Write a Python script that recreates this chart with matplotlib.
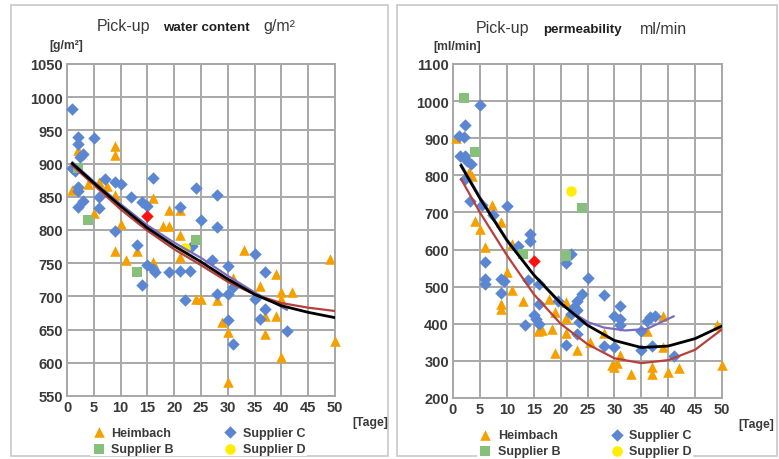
import matplotlib
matplotlib.use("Agg")
import matplotlib.pyplot as plt
from matplotlib.patches import Rectangle

plt.rcParams['font.family'] = ['Liberation Sans', 'DejaVu Sans']

# ---------------- Left chart: water content ----------------
wc_heim_x = [1, 2, 4, 6, 7.5, 9, 9, 9, 5, 16, 19, 21, 10, 9, 11, 13, 16, 18, 19, 21, 21,
             24, 25, 28, 29, 30, 30, 31, 33, 36, 37, 37, 39, 39, 40, 40, 40, 42, 49, 50]
wc_heim_y = [860, 920, 869, 872, 866, 926, 913, 852, 826, 848, 830, 830, 809, 768, 755, 768, 752, 806, 806, 792, 759,
             696, 696, 695, 661, 646, 571, 728, 770, 716, 671, 643, 671, 734, 707, 696, 609, 707, 757, 633]
wc_c_x = [1, 2, 2, 5, 3, 2.5, 1, 1.5, 2, 2, 3, 2, 6, 6, 7, 9, 10, 12, 14, 15, 16, 21, 24, 28, 25, 28,
          9, 13, 14, 15, 16, 16.5, 19, 21, 22, 23, 23.4, 27, 28, 30, 30, 31, 30, 31, 35, 35, 36, 37, 37, 41]
wc_c_y = [982, 940, 930, 938, 915, 910, 893, 889, 865, 858, 843, 834, 849, 833, 877, 872, 869, 850, 842, 836, 878, 834, 864, 852, 815, 804,
          799, 777, 717, 747, 741, 737, 737, 738, 695, 738, 776, 755, 704, 746, 704, 714, 665, 628, 764, 696, 666, 737, 681, 648]
wc_b_x = [2, 4, 13, 24]
wc_b_y = [894, 815, 737, 785]
wc_d_x = [22]
wc_d_y = [773]
wc_red_x = [15]
wc_red_y = [821]
wc_tr_x = [1, 5, 10, 15, 20, 25, 30, 35, 40, 45, 50]
wc_black = [900, 871, 836, 803, 776, 752, 726, 703, 686, 676, 668]
wc_redline = [897, 868, 831, 799, 771, 747, 722, 703, 690, 683, 678]
wc_pur_x = [1, 5, 10, 15, 20, 25, 30, 35, 41]
wc_pur = [902, 873, 839, 807, 781, 758, 731, 706, 680]

# ---------------- Right chart: permeability ----------------
pm_heim_x = [0.5, 3, 3.5, 7.2, 4, 9, 5, 6, 11, 10, 11, 13, 9, 9, 15.8, 16.5, 18.4, 19, 17.8, 19, 21, 21, 21,
             23, 25.5, 28, 29.5, 30, 30.5, 31, 33, 36, 37, 37, 39, 39, 40, 42, 49, 50]
pm_heim_y = [900, 809, 798, 720, 677, 674, 656, 607, 615, 540, 490, 461, 454, 440, 380, 382, 386, 320, 466, 432, 458, 416, 375,
             328, 351, 374, 289, 283, 295, 316, 264, 381, 284, 266, 420, 337, 270, 281, 397, 289]
pm_c_x = [5, 2.2, 1.1, 2, 1.3, 2.2, 2.6, 3.3, 2.2, 3.2, 5.4, 7.5, 10, 12, 14.3, 14.3, 22, 21, 6, 6, 6, 9, 9.5, 9,
          14, 16, 16, 15, 15.5, 16, 13.4, 21, 22, 19.5, 23, 23, 23, 24, 25, 28, 28, 30, 31, 31, 31, 30, 35, 35,
          36, 36.7, 37.5, 37, 41, 23.5, 22.5]
pm_c_y = [990, 936, 906, 903, 852, 852, 839, 831, 790, 731, 720, 693, 718, 610, 642, 623, 588, 563, 566, 522, 506, 521, 515, 483,
          519, 507, 453, 425, 414, 400, 397, 343, 427, 461, 461, 438, 373, 480, 523, 478, 340, 422, 448, 412, 398, 337, 381, 330,
          408, 418, 422, 340, 313, 405, 445]
pm_b_x = [2, 4, 13, 21, 24]
pm_b_y = [1008, 862, 589, 583, 712]
pm_d_x = [22]
pm_d_y = [758]
pm_red_x = [15]
pm_red_y = [569]
pm_tr_x = [1.5, 5, 10, 15, 20, 25, 30, 35, 40, 45, 50]
pm_black = [826, 738, 625, 532, 456, 396, 355, 336, 340, 360, 394]
pm_redline = [790, 700, 585, 480, 400, 345, 307, 294, 302, 330, 385]
pm_pur_x = [1.5, 5, 10, 15, 20, 25, 28, 32, 36, 41]
pm_pur = [830, 742, 628, 532, 452, 405, 390, 382, 386, 420]

ORANGE = '#F5A000'
BLUE = '#5B86D2'
GREEN = '#86C07A'
YELLOW = '#FFEE00'
RED = '#FF1010'
GRID = '#A8A8A8'
TXT = '#3A3A3A'

W, H = 779, 460
fig = plt.figure(figsize=(W / 100, H / 100), dpi=100)


def fx(px):
    return px / W


def fy(py):
    return 1 - py / H


# panel frames (drawn beneath the axes so the legends cover them)
fig.patches.append(Rectangle((fx(11), fy(457)), fx(377), fy(6) - fy(457), zorder=-5,
                             transform=fig.transFigure, fill=False, ec='#C8C8C8', lw=1.2))
fig.patches.append(Rectangle((fx(397), fy(457)), fx(380), fy(6) - fy(457), zorder=-5,
                             transform=fig.transFigure, fill=False, ec='#C8C8C8', lw=1.2))


def make_panel(rect, xlim, ylim, yticks, heim, c, b, d, red, trx, black, redl, purx, pur):
    ax = fig.add_axes(rect)
    ax.set_xlim(*xlim)
    ax.set_ylim(*ylim)
    ax.set_xticks(range(0, 51, 5))
    ax.set_yticks(yticks)
    ax.grid(True, color=GRID, lw=1.4)
    ax.set_axisbelow(True)
    for s in ax.spines.values():
        s.set_color(GRID)
        s.set_linewidth(1.4)
    ax.tick_params(length=0, pad=3, labelsize=10.5, labelcolor=TXT)
    for lab in ax.get_xticklabels() + ax.get_yticklabels():
        lab.set_fontweight('bold')
    h1 = ax.scatter(heim[0], heim[1], marker='^', s=58, c=ORANGE, lw=0, zorder=3, clip_on=False)
    h2 = ax.scatter(c[0], c[1], marker='D', s=40, c=BLUE, lw=0, zorder=3, clip_on=False)
    h3 = ax.scatter(b[0], b[1], marker='s', s=58, c=GREEN, lw=0, zorder=3)
    h4 = ax.scatter(d[0], d[1], marker='o', s=58, c=YELLOW, lw=0, zorder=3)
    ax.scatter(red[0], red[1], marker='D', s=40, c=RED, lw=0, zorder=3)
    ax.plot(purx, pur, color='#7A6CC0', lw=1.6, zorder=4)
    ax.plot(trx, redl, color='#B8403C', lw=1.6, zorder=4)
    ax.plot(trx, black, color='black', lw=2.0, zorder=5)
    leg = ax.legend([h1, h3, h2, h4], ['Heimbach', 'Supplier B', 'Supplier C', 'Supplier D'],
                    ncol=2, frameon=True, loc='upper center', bbox_to_anchor=(0.49, -0.07),
                    prop={'weight': 'bold', 'size': 9}, labelcolor=TXT, handletextpad=0.4,
                    columnspacing=3.9, labelspacing=0.35, borderpad=0.1, handlelength=1.2,
                    facecolor='white', edgecolor='none', framealpha=1, fancybox=False)
    leg.set_zorder(10)
    return ax


ax1 = make_panel([fx(67), fy(397), fx(268), fy(65) - fy(397)], (0, 50), (550, 1050), range(550, 1051, 50),
                 (wc_heim_x, wc_heim_y), (wc_c_x, wc_c_y), (wc_b_x, wc_b_y), (wc_d_x, wc_d_y),
                 (wc_red_x, wc_red_y), wc_tr_x, wc_black, wc_redline, wc_pur_x, wc_pur)
ax2 = make_panel([fx(453), fy(399), fx(269), fy(65) - fy(399)], (0, 50), (200, 1100), range(200, 1101, 100),
                 (pm_heim_x, pm_heim_y), (pm_c_x, pm_c_y), (pm_b_x, pm_b_y), (pm_d_x, pm_d_y),
                 (pm_red_x, pm_red_y), pm_tr_x, pm_black, pm_redline, pm_pur_x, pm_pur)

# titles
fig.text(fx(97), fy(27), 'Pick-up', fontsize=11.5, color=TXT, va='center', ha='left')
fig.text(fx(163), fy(28), 'water content', fontsize=9.6, fontweight='bold', color='#202020', va='center', ha='left')
fig.text(fx(263), fy(27), 'g/m²', fontsize=11.5, color=TXT, va='center', ha='left')
fig.text(fx(49), fy(46), '[g/m²]', fontsize=8.8, fontweight='bold', color=TXT, va='center', ha='left')
fig.text(fx(352), fy(423), '[Tage]', fontsize=8.8, fontweight='bold', color=TXT, va='center', ha='left')

fig.text(fx(476), fy(29), 'Pick-up', fontsize=11.5, color=TXT, va='center', ha='left')
fig.text(fx(543), fy(30), 'permeability', fontsize=9.6, fontweight='bold', color='#202020', va='center', ha='left')
fig.text(fx(640), fy(29), 'ml/min', fontsize=11.5, color=TXT, va='center', ha='left')
fig.text(fx(433), fy(47), '[ml/min]', fontsize=8.8, fontweight='bold', color=TXT, va='center', ha='left')
fig.text(fx(738), fy(425), '[Tage]', fontsize=8.8, fontweight='bold', color=TXT, va='center', ha='left')

fig.savefig('out.png', dpi=100)
